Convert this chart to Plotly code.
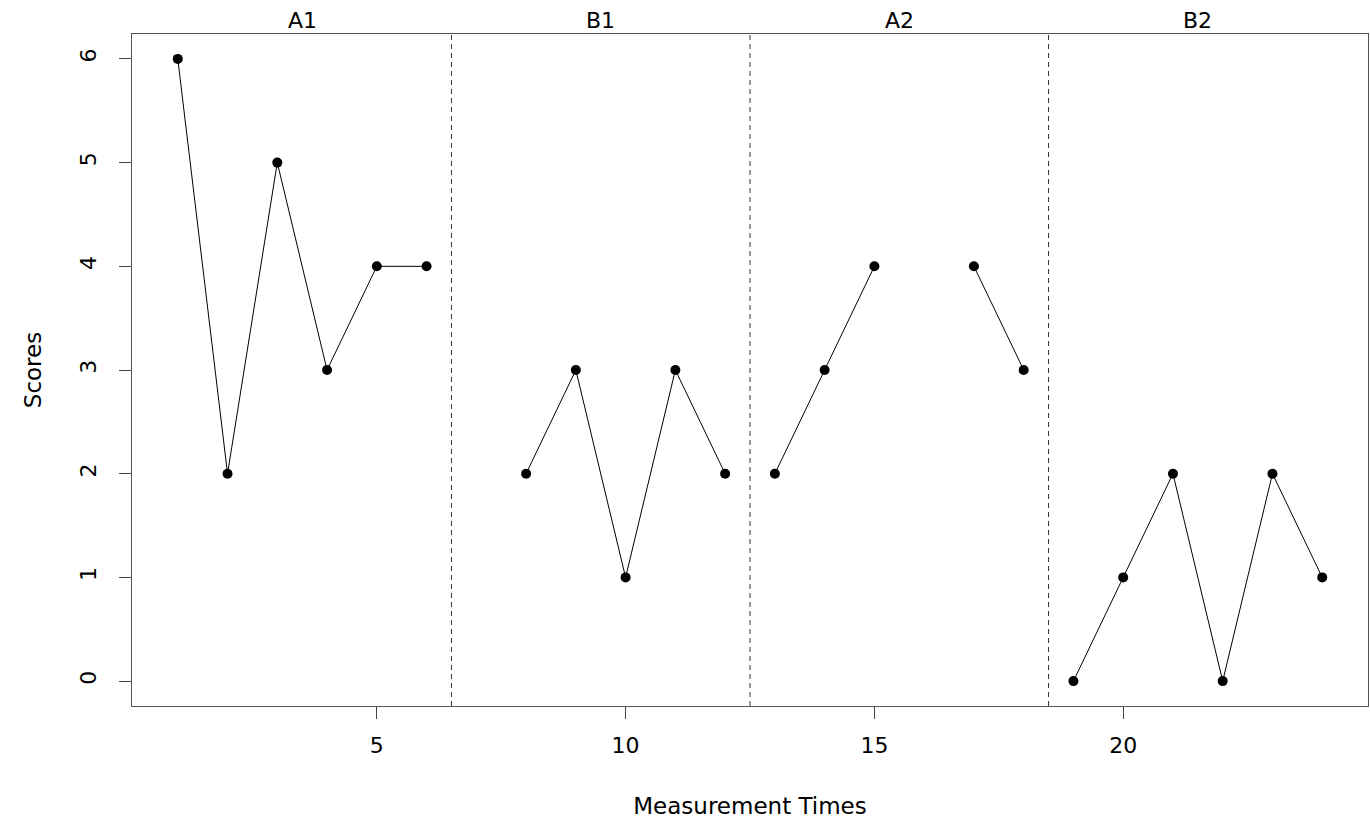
import plotly.graph_objects as go

phases = ["A1", "B1", "A2", "B2"]
times = list(range(1, 25))
scores = [6, 2, 5, 3, 4, 4,
          None, 2, 3, 1, 3, 2,
          2, 3, 4, None, 4, 3,
          0, 1, 2, 0, 2, 1]
phase_of = ["A1"] * 6 + ["B1"] * 6 + ["A2"] * 6 + ["B2"] * 6
x_ticks = [5, 10, 15, 20]
y_ticks = [0, 1, 2, 3, 4, 5, 6]

FONT = "DejaVu Sans"
FS = 22
FT = 23
fig = go.Figure()
for ph in phases:
    xs = [t for t, p in zip(times, phase_of) if p == ph]
    ys = [s for s, p in zip(scores, phase_of) if p == ph]
    fig.add_trace(go.Scatter(x=xs, y=ys, mode="lines+markers",
                             line=dict(color="black", width=1),
                             marker=dict(color="black", size=10),
                             connectgaps=False, showlegend=False))

boundaries = []
centers = []
for ph in phases:
    xs = [t for t, p in zip(times, phase_of) if p == ph]
    centers.append((min(xs) + max(xs)) / 2)
    boundaries.append(max(xs) + 0.5)
for b in boundaries[:-1]:
    fig.add_shape(type="line", x0=b, x1=b, xref="x", y0=0, y1=1, yref="paper",
                  line=dict(color="#333333", width=1, dash="5px,4px"))
for ph, c in zip(phases, centers):
    fig.add_annotation(x=c, xref="x", y=1, yref="paper", yanchor="middle",
                       text=ph, showarrow=False, yshift=14,
                       font=dict(family=FONT, size=FS, color="black"))

n = len(times)
pad = (n - 1) * 0.04
fig.update_xaxes(range=[1 - pad, n + pad], tickvals=x_ticks, ticks="outside",
                 ticklen=12, tickcolor="#444", showline=True, linecolor="#555",
                 mirror=True, showgrid=False, zeroline=False,
                 ticklabelstandoff=8,
                 title=dict(text="Measurement Times", standoff=40,
                            font=dict(family=FONT, size=FT, color="black")),
                 tickfont=dict(family=FONT, size=FS, color="black"))
fig.update_yaxes(range=[-0.24, 6.24], tickvals=y_ticks, ticks="outside",
                 ticklen=12, tickcolor="#444", showline=True, linecolor="#555",
                 mirror=True, showgrid=False, zeroline=False, tickangle=-90,
                 ticklabelstandoff=14,
                 title=dict(text="Scores", standoff=28,
                            font=dict(family=FONT, size=FT, color="black")),
                 tickfont=dict(family=FONT, size=FS, color="black"))
fig.update_layout(width=1370, height=822, plot_bgcolor="white",
                  paper_bgcolor="white",
                  margin=dict(l=132, r=2, t=34, b=116),
                  font=dict(family=FONT))
fig.write_html("out.html", config={"displayModeBar": False},
               post_script="document.body.style.margin='0';document.body.style.overflow='hidden';")
